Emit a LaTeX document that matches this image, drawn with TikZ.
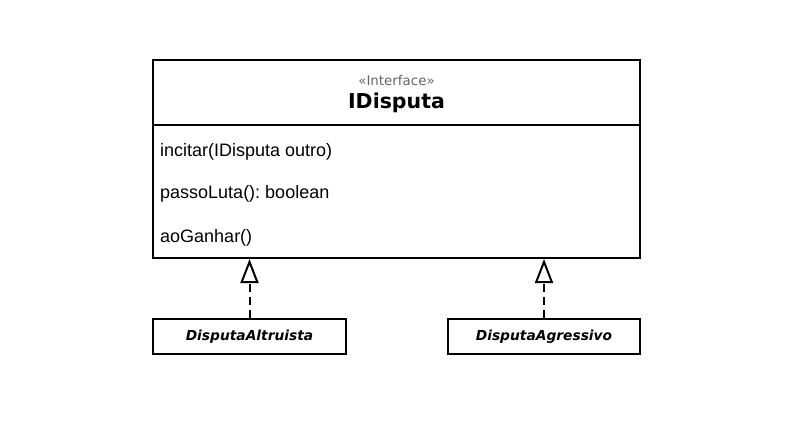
\documentclass[tikz,border=0pt]{standalone}
\usepackage{fontspec}
\setmainfont{Liberation Sans}
\newfontfamily\dejavu{DejaVu Sans}
\usetikzlibrary{arrows.meta}
\frenchspacing
\begin{document}
\begin{tikzpicture}[x=1pt,y=-1pt,
  umlbox/.style={draw=black,line width=2pt,fill=white,inner sep=0pt},
  meth/.style={anchor=base west,inner sep=0pt,font=\fontsize{18}{20}\selectfont},
  realize/.style={line width=2pt,dash pattern=on 8pt off 5pt,
    -{Triangle[open,length=24pt,width=18pt,line width=2pt]}}]
\useasboundingbox (0,0) rectangle (794,447);
\node[umlbox,minimum width=487pt,minimum height=198pt] (iface) at (396.5,159) {};
\coordinate (hdl) at (153,125);
\coordinate (hdr) at (640,125);
\draw[line width=2pt] (hdl) -- (hdr);
\node[inner sep=0pt,text=black!60,font=\dejavu\fontsize{13.4}{15}\selectfont] (stereo) at (396.5,81) {«Interface»};
\node[inner sep=0pt,font=\dejavu\bfseries\fontsize{20.5}{23}\selectfont] (title) at (396.5,103) {IDisputa};
\node[meth] (m1) at (160,156) {incitar(IDisputa outro)};
\node[meth] (m2) at (160,198) {passoLuta(): boolean};
\node[meth] (m3) at (160,242) {aoGanhar()};
\node[umlbox,minimum width=193pt,minimum height=35pt,font=\dejavu\bfseries\itshape\fontsize{13.8}{16}\selectfont] (alt) at (249.5,336.5) {DisputaAltruista};
\node[umlbox,minimum width=192pt,minimum height=35pt,font=\dejavu\bfseries\itshape\fontsize{13.8}{16}\selectfont] (agr) at (544,336.5) {DisputaAgressivo};
\draw[realize] (alt.north) -- (alt.north |- iface.south);
\draw[realize] (agr.north) -- (agr.north |- iface.south);
\end{tikzpicture}
\end{document}
